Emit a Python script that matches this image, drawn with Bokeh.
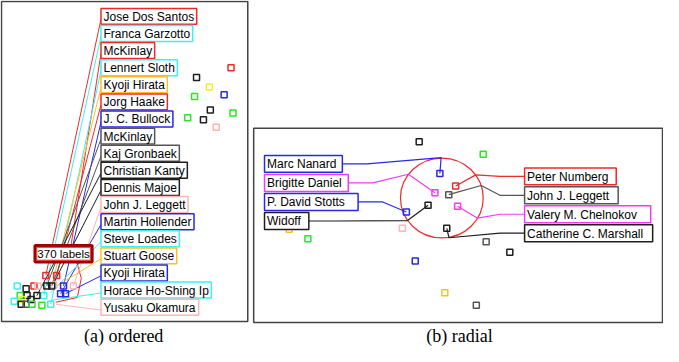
import math
from bokeh.plotting import figure
from bokeh.models import Range1d
from bokeh.core.properties import value
from bokeh.embed import file_html
from bokeh.resources import INLINE

RED = "#f02828"
CYAN = "#3cf0f0"
ORANGE = "#ffbe28"
BLUE = "#2828e6"
BLACK = "#1e1e1e"
GRAY = "#555555"
PINK = "#ffb4b4"
MAGENTA = "#f03cf0"
GREEN = "#28e628"
YELLOW = "#f0f028"
DARKRED = "#a00000"

# ---------------- panel (a): ordered ----------------
a_names = ["Jose Dos Santos", "Franca Garzotto", "McKinlay", "Lennert Sloth",
           "Kyoji Hirata", "Jorg Haake", "J. C. Bullock", "McKinlay",
           "Kaj Gronbaek", "Christian Kanty", "Dennis Majoe", "John J. Leggett",
           "Martin Hollender", "Steve Loades", "Stuart Goose", "Kyoji Hirata",
           "Horace Ho-Shing Ip", "Yusaku Okamura"]
a_colors = [RED, CYAN, RED, CYAN, ORANGE, RED, BLUE, GRAY, GRAY, BLACK, BLACK,
            PINK, BLUE, CYAN, ORANGE, BLUE, CYAN, PINK]
# node each label points to (in the dense cluster)
a_end_x = [52, 50, 62, 57, 58, 63, 70, 53, 58, 43, 60, 80, 67, 57, 60, 72, 57, 62]
a_end_y = [292, 313, 320, 322, 303, 292, 303, 303, 303, 313, 300, 303, 311, 310, 305, 311, 318, 322]
a_hidden = "370 labels"

# cluster nodes
a_cl_x = [23, 32, 40, 44, 26, 33, 28, 20, 27, 32, 37, 38, 48, 57, 50, 43, 52, 60, 53, 58, 70, 67, 72, 80, 63]
a_cl_y = [303, 306, 303, 303, 313, 313, 317, 319, 322, 322, 317, 322, 323, 322, 313, 313, 292, 302, 303, 303, 303, 311, 311, 303, 292]
a_cl_c = [CYAN, BLACK, RED, PINK, GREEN, BLACK, YELLOW, CYAN, BLACK, GRAY, BLACK, GREEN, GREEN, CYAN, CYAN,
          BLACK, RED, PINK, BLACK, BLACK, BLUE, BLUE, BLUE, PINK, RED]
# isolated nodes (upper right)
a_iso_x = [240, 205, 218, 203, 233, 219, 242, 196, 212, 225]
a_iso_y = [76, 86, 96, 106, 104, 120, 123, 128, 130, 138]
a_iso_c = [RED, BLACK, YELLOW, GREEN, BLUE, BLACK, GREEN, GREEN, BLACK, PINK]

# ---------------- panel (b): radial ----------------
b_node_x = [431, 496, 452, 468, 447, 461, 440, 470, 418, 414, 459, 299, 318, 499, 523, 427, 457, 489]
b_node_y = [153, 166, 186, 199, 206, 208, 219, 220, 226, 243, 243, 244, 254, 257, 268, 277, 310, 323]
b_node_c = [BLACK, GREEN, BLUE, RED, MAGENTA, GRAY, BLACK, MAGENTA, BLUE, PINK, BLACK, ORANGE,
            GREEN, GRAY, BLACK, BLUE, ORANGE, GRAY]
b_left_names = ["Marc Nanard", "Brigitte Daniel", "P. David Stotts", "Widoff"]
b_left_colors = [BLUE, MAGENTA, BLUE, BLACK]
b_left_node = [2, 4, 8, 6]
b_left_angle = [-91, -144, None, 146]
b_right_names = ["Peter Numberg", "John J. Leggett", "Valery M. Chelnokov", "Catherine C. Marshall"]
b_right_colors = [RED, GRAY, MAGENTA, BLACK]
b_right_node = [3, 5, 7, 10]
b_right_angle = [-35, -18, 30, 80]

captions = ["(a) ordered", "(b) radial"]

# ---------------- layout (pixels of the original picture) ----------------
X0, X1, Y0, Y1 = 6, 679, 6, 366
W, H = 663, 346
SX = W / (X1 - X0)
A_FRAME = (7, 257, 7, 340)
B_FRAME = (263, 678, 139, 341)
A_BOX_LEFT = 108
A_TOP = 22.5
A_STEP = 17.8
A_HALF = 8.3
a_box_right = [203, 197, 161, 182, 174, 173, 181, 160, 183, 194, 183, 195, 197, 186, 182, 174, 215, 205]
B_LEFT_X = 274
b_left_right = [353, 359, 369, 319]
B_LEFT_TOP, B_LEFT_STEP = 176, 19.8
B_RIGHT_X = 538
b_right_right = [631, 633, 666, 668]
B_RIGHT_TOP, B_RIGHT_STEP = 189, 19.7
B_HALF = 8.8
CIRCLE = (454, 211.5, 42)
FONT = value("Liberation Sans")
FSPX = 12
FS = f"{FSPX}px"
PAD = 2.5

# Arial / Liberation Sans advance widths (1/1000 em) to keep text inside its box
_AW = {" ": 278, ".": 278, "-": 333}
_AW.update(dict(zip("ABCDEFGHIJKLMNOPQRSTUVWXYZ",
                    [667, 667, 722, 722, 667, 611, 778, 722, 278, 500, 667, 556, 833,
                     722, 778, 667, 778, 722, 667, 611, 722, 667, 944, 667, 667, 611])))
_AW.update(dict(zip("abcdefghijklmnopqrstuvwxyz",
                    [556, 556, 500, 556, 556, 278, 556, 556, 222, 222, 500, 222, 833,
                     556, 556, 556, 556, 333, 500, 278, 556, 500, 722, 500, 500, 500])))


def fit_right(left, right, s):
    w = sum(_AW.get(ch, 556) for ch in s) * FSPX / 1000.0
    need = left + (PAD + w + 2.5) / SX
    return max(right, need)


p = figure(width=W, height=H, x_range=Range1d(X0, X1), y_range=Range1d(Y1, Y0),
           output_backend="svg", toolbar_location=None, min_border=0,
           x_axis_location=None, y_axis_location=None)
p.grid.visible = False
p.outline_line_color = None
p.background_fill_color = "white"
p.border_fill_color = "white"

# frames
for (l, r, t, b) in (A_FRAME, B_FRAME):
    p.quad(left=[l], right=[r], top=[t], bottom=[b], fill_color=None,
           line_color="#444444", line_width=1.5)

# ---- panel (a) leader lines
a_cy = [A_TOP + i * A_STEP for i in range(len(a_names))]
xs, ys = [], []
for i in range(len(a_names)):
    lx = [A_BOX_LEFT, a_end_x[i]]
    ly = [a_cy[i] + 3, a_end_y[i]]
    if i == 2:
        lx = [A_BOX_LEFT, 78, 88, 84, a_end_x[i]]
        ly = [a_cy[i] + 3, 258, 295, 315, a_end_y[i]]
    xs.append(lx)
    ys.append(ly)
p.multi_line(xs=xs, ys=ys, line_color=a_colors, line_width=1)

# nodes in (a)
p.scatter(a_cl_x, a_cl_y, marker="square", size=6, fill_color=None,
          line_color=a_cl_c, line_width=1.5)
p.scatter(a_iso_x, a_iso_y, marker="square", size=6, fill_color=None,
          line_color=a_iso_c, line_width=1.5)

# label boxes (a)
a_right = [fit_right(A_BOX_LEFT, r, s) for r, s in zip(a_box_right, a_names)]
p.quad(left=[A_BOX_LEFT] * len(a_names), right=a_right,
       top=[c - A_HALF for c in a_cy], bottom=[c + A_HALF for c in a_cy],
       fill_color="white", line_color=a_colors, line_width=1.5)
p.text(x=[A_BOX_LEFT + PAD / SX] * len(a_names), y=[c + 0.5 for c in a_cy], text=a_names,
       text_font=FONT, text_font_size=FS, text_color="black",
       text_baseline="middle", text_align="left")

# hidden-labels box
p.quad(left=[41], right=[99], top=[261], bottom=[278], fill_color="white",
       line_color=DARKRED, line_width=3)
p.quad(left=[42.8], right=[97.2], top=[262.8], bottom=[276.2], fill_color=None,
       line_color=RED, line_width=1)
p.text(x=[70], y=[270], text=[a_hidden], text_font=FONT, text_font_size="11.5px",
       text_color="black", text_baseline="middle", text_align="center")

# ---- panel (b)
cx, cy, cr = CIRCLE
p.ellipse(x=[cx], y=[cy], width=[2 * cr], height=[2 * cr - 1], fill_color=None,
          line_color=RED, line_width=1.2)

b_lcy = [B_LEFT_TOP + i * B_LEFT_STEP for i in range(4)]
b_rcy = [B_RIGHT_TOP + i * B_RIGHT_STEP for i in range(4)]
b_lr = [fit_right(B_LEFT_X, r, s) for r, s in zip(b_left_right, b_left_names)]
b_rr = [fit_right(B_RIGHT_X, r, s) for r, s in zip(b_right_right, b_right_names)]
xs, ys, cols = [], [], []
for side in ("L", "R"):
    nodes = b_left_node if side == "L" else b_right_node
    angs = b_left_angle if side == "L" else b_right_angle
    centers = b_lcy if side == "L" else b_rcy
    colors = b_left_colors if side == "L" else b_right_colors
    for i in range(4):
        n = nodes[i]
        lx, ly = [b_node_x[n]], [b_node_y[n]]
        if angs[i] is not None:
            a = math.radians(angs[i])
            lx.append(cx + cr * math.cos(a))
            ly.append(cy + cr * math.sin(a))
        edge = b_lr[i] if side == "L" else B_RIGHT_X
        elbow = edge + 25 if side == "L" else edge - 25
        lx += [elbow, edge]
        ly += [centers[i], centers[i]]
        xs.append(lx)
        ys.append(ly)
        cols.append(colors[i])
p.multi_line(xs=xs, ys=ys, line_color=cols, line_width=1.2)

p.scatter(b_node_x, b_node_y, marker="square", size=6, fill_color=None,
          line_color=b_node_c, line_width=1.5)

p.quad(left=[B_LEFT_X] * 4, right=b_lr, top=[c - B_HALF for c in b_lcy],
       bottom=[c + B_HALF for c in b_lcy], fill_color="white",
       line_color=b_left_colors, line_width=1.5)
p.quad(left=[B_RIGHT_X] * 4, right=b_rr, top=[c - B_HALF for c in b_rcy],
       bottom=[c + B_HALF for c in b_rcy], fill_color="white",
       line_color=b_right_colors, line_width=1.5)
p.text(x=[B_LEFT_X + PAD / SX] * 4, y=[c + 0.5 for c in b_lcy], text=b_left_names,
       text_font=FONT, text_font_size=FS, text_color="black",
       text_baseline="middle", text_align="left")
p.text(x=[B_RIGHT_X + PAD / SX] * 4, y=[c + 0.5 for c in b_rcy], text=b_right_names,
       text_font=FONT, text_font_size=FS, text_color="black",
       text_baseline="middle", text_align="left")

# captions
p.text(x=[131, 472], y=[355, 355], text=captions, text_font=value("Liberation Serif"),
       text_font_size="18px", text_color="black", text_baseline="middle",
       text_align="center")

open("out.html", "w").write(file_html(p, INLINE))
